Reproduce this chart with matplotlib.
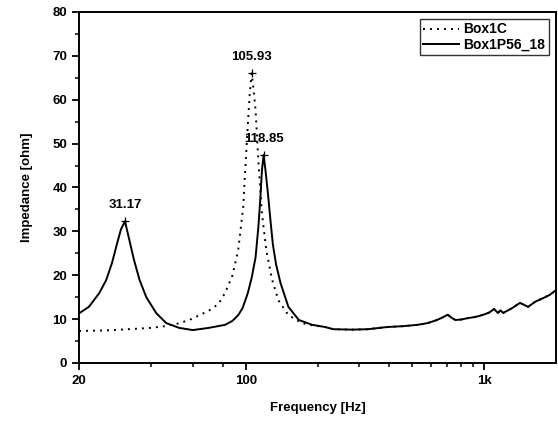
import matplotlib.pyplot as plt
from matplotlib.ticker import FixedLocator, FixedFormatter, MultipleLocator

plt.rcParams['font.family'] = ['Liberation Sans', 'DejaVu Sans']

# Box1C (dotted)
freq_c = [20, 25, 30, 40, 46, 52, 58, 64, 70, 77, 82, 88, 93, 97.6, 100, 102, 104,
          105.93, 108, 110, 113, 117, 122, 129, 137, 151, 172, 190, 215,
          233, 280, 325, 393, 460, 526, 580, 634, 670, 703, 730, 757, 800, 849, 920,
          992, 1050, 1100, 1141, 1170, 1200, 1300, 1413, 1528, 1640, 1770, 1880, 2000]
z_c = [7.3, 7.4, 7.6, 8.0, 8.4, 9.0, 9.8, 10.9, 11.9, 13.5, 16.0, 20.0, 25.7, 35.5,
       46.0, 54.0, 61.5, 66.0, 62.0, 57.6, 46.0, 34.0, 25.7, 19.0, 14.3, 10.9, 9.1,
       8.6, 8.2, 7.7, 7.6, 7.7, 8.2, 8.4, 8.7, 9.1, 9.8, 10.4, 11.0, 10.3,
       9.8, 9.9, 10.2, 10.5, 11.0, 11.5, 12.3, 11.4, 12.0, 11.4, 12.4, 13.7, 12.8,
       14.0, 14.8, 15.5, 16.6]

# Box1P56_18 (solid)
freq_p = [20, 22, 24.3, 26, 27.5, 28.9, 30, 31.17, 32.3, 34, 35.9, 38.3, 42.1, 46.4,
          52.6, 60, 70, 82, 88, 93, 97, 102, 106, 110, 113, 115, 117, 118.85,
          121, 124, 127, 130, 134, 140, 151, 167, 190, 215, 233, 280, 325,
          393, 460, 526, 580, 634, 670, 703, 730, 757, 800, 849, 920, 992, 1050, 1100,
          1141, 1170, 1200, 1300, 1413, 1528, 1640, 1770, 1880, 2000]
z_p = [11.3, 12.8, 15.9, 18.9, 22.8, 27.3, 30.5, 32.3, 28.7, 23.5, 18.9, 15.0, 11.4,
       9.1, 8.0, 7.5, 8.0, 8.7, 9.6, 10.9, 12.5, 15.9, 19.5, 24.1, 31.0, 37.0, 44.0,
       47.4, 44.0, 38.5, 32.5, 27.0, 22.5, 18.2, 12.8, 9.8, 8.7, 8.2, 7.7, 7.6, 7.7,
       8.2, 8.4, 8.7, 9.1, 9.8, 10.4, 11.0, 10.3, 9.8, 9.9, 10.2, 10.5, 11.0, 11.5,
       12.3, 11.4, 12.0, 11.4, 12.4, 13.7, 12.8, 14.0, 14.8, 15.5, 16.6]

peaks_f = [31.17, 105.93, 118.85]
peaks_z = [32.3, 66.0, 47.4]
peak_labels = ['31.17', '105.93', '118.85']

fig = plt.figure(figsize=(5.58, 4.21), dpi=100)
ax = fig.add_axes([0.1416, 0.1378, 0.8548, 0.8337])

ax.plot(freq_c, z_c, color='black', linestyle=(0, (1, 2.6)), linewidth=1.4, label='Box1C')
ax.plot(freq_p, z_p, color='black', linestyle='-', linewidth=1.4, label='Box1P56_18')
ax.plot(peaks_f, peaks_z, linestyle='none', marker='+', color='black', markersize=6,
        markeredgewidth=0.9)
for f, z, t in zip(peaks_f, peaks_z, peak_labels):
    ax.annotate(t, (f, z), xytext=(0, 11.5), textcoords='offset points',
                ha='center', va='center', fontsize=9.5, fontweight='bold')

ax.set_xscale('log')
ax.set_xlim(20, 2000)
ax.set_ylim(0, 80)
ax.xaxis.set_major_locator(FixedLocator([20, 100, 1000]))
ax.xaxis.set_major_formatter(FixedFormatter(['20', '100', '1k']))
ax.xaxis.set_minor_locator(FixedLocator([40, 60, 80, 200, 300, 400, 500, 600, 700, 800, 900]))
ax.xaxis.set_minor_formatter(FixedFormatter([]))
ax.yaxis.set_major_locator(MultipleLocator(10))
ax.yaxis.set_minor_locator(MultipleLocator(5))

ax.tick_params(which='major', direction='out', length=5, width=1.3, labelsize=9.5)
ax.tick_params(which='minor', direction='out', length=3, width=1.1)
for lab in ax.get_xticklabels() + ax.get_yticklabels():
    lab.set_fontweight('bold')
for s in ax.spines.values():
    s.set_linewidth(1.4)

ax.set_xlabel('Frequency [Hz]', fontsize=9.5, fontweight='bold', labelpad=11)
ax.set_ylabel('Impedance [ohm]', fontsize=9.5, fontweight='bold', labelpad=14)

leg = ax.legend(loc='upper right', bbox_to_anchor=(0.985, 0.98), fontsize=10,
                frameon=True, fancybox=False, handlelength=2.6, handletextpad=0.3,
                borderpad=0.25, labelspacing=0.1, borderaxespad=0)
leg.get_frame().set_edgecolor('black')
leg.get_frame().set_linewidth(1.0)
for t in leg.get_texts():
    t.set_fontweight('bold')

fig.savefig('out.png', dpi=100)
